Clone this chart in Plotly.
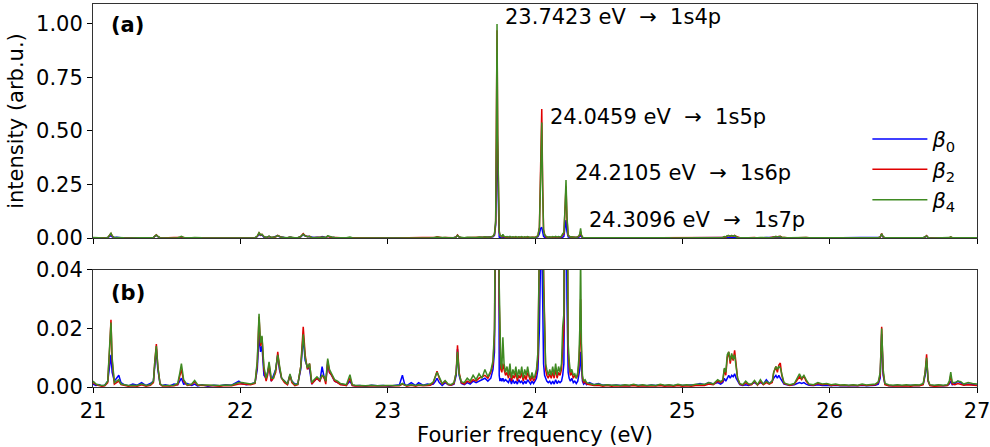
import plotly.graph_objects as go

# ---------------- data ----------------
freq = [
    21.00, 21.02, 21.04, 21.06, 21.08, 21.10, 21.115, 21.122, 21.13, 21.145, 21.16, 21.175, 21.19,
    21.21, 21.24, 21.27, 21.30, 21.33, 21.36, 21.39, 21.41, 21.42, 21.43, 21.44, 21.455, 21.47, 21.49,
    21.52, 21.55, 21.575, 21.59, 21.60, 21.615, 21.64, 21.67, 21.69, 21.71, 21.74, 21.78, 21.82, 21.86, 21.90, 21.94, 21.97, 21.99,
    22.01, 22.04, 22.07, 22.10, 22.115, 22.127, 22.137, 22.147, 22.16, 22.175, 22.185, 22.195, 22.21, 22.225, 22.24, 22.254, 22.265, 22.28, 22.30, 22.32, 22.337, 22.35, 22.37, 22.39,
    22.41, 22.427, 22.44, 22.455, 22.47, 22.485, 22.50, 22.52, 22.54, 22.555, 22.57, 22.58, 22.593, 22.605, 22.62, 22.64, 22.66, 22.68, 22.70, 22.72, 22.744, 22.76, 22.78,
    22.81, 22.85, 22.89, 22.93, 22.97, 23.01, 23.05, 23.08, 23.10, 23.115, 23.13, 23.16, 23.19, 23.21, 23.24, 23.27, 23.29,
    23.31, 23.325, 23.335, 23.35, 23.37, 23.39, 23.41, 23.43, 23.45, 23.465, 23.474, 23.485, 23.50, 23.52, 23.54, 23.56, 23.58, 23.60, 23.62, 23.64, 23.66, 23.68, 23.70, 23.715, 23.725,
    23.733, 23.738, 23.7423, 23.747, 23.752, 23.757, 23.762, 23.768, 23.775, 23.782, 23.79, 23.80,
    23.81, 23.82, 23.83, 23.84, 23.85, 23.86, 23.87, 23.88, 23.89, 23.90, 23.91, 23.92, 23.93, 23.94, 23.95, 23.96, 23.97, 23.98, 23.99, 24.00, 24.01, 24.02, 24.03,
    24.038, 24.0459, 24.052, 24.058, 24.065, 24.072, 24.08, 24.09, 24.10, 24.11,
    24.12, 24.13, 24.14, 24.15, 24.16, 24.17, 24.18, 24.188, 24.196, 24.203,
    24.2105, 24.217, 24.225, 24.232, 24.24, 24.25, 24.26, 24.27, 24.28, 24.29, 24.298,
    24.304, 24.3096, 24.315, 24.322, 24.33, 24.34, 24.35,
    24.37, 24.40, 24.43, 24.46, 24.49, 24.52, 24.55, 24.58, 24.61, 24.64, 24.67, 24.70, 24.73, 24.76, 24.79, 24.82, 24.85, 24.88, 24.91, 24.94, 24.97, 25.00, 25.03, 25.06, 25.09, 25.12, 25.15, 25.18, 25.21, 25.24, 25.26,
    25.275, 25.285, 25.295, 25.305, 25.315, 25.325, 25.335, 25.345, 25.355, 25.365, 25.375, 25.39, 25.41, 25.43, 25.45,
    25.47, 25.49, 25.51, 25.53, 25.55, 25.57, 25.59, 25.61, 25.62, 25.635, 25.645, 25.655, 25.665, 25.675, 25.69, 25.71, 25.73,
    25.76, 25.78, 25.795, 25.81, 25.825, 25.84, 25.86, 25.89, 25.92, 25.95, 25.98, 26.01, 26.04, 26.07, 26.10, 26.13, 26.16, 26.19, 26.22, 26.25, 26.28, 26.31, 26.33,
    26.343, 26.353, 26.363, 26.375, 26.40, 26.43, 26.46, 26.49, 26.52, 26.55, 26.58, 26.61, 26.635, 26.648, 26.658, 26.668, 26.68, 26.71, 26.74, 26.77, 26.80, 26.812, 26.822, 26.832, 26.85, 26.87, 26.89, 26.91, 26.94, 26.97, 27.00,
]

beta0 = [
    0.001, 0.0005, 0.0008, 0.0004, 0.0006, 0.002, 0.008, 0.011, 0.005, 0.002, 0.003, 0.004, 0.0015,
    0.0008, 0.0004, 0.001, 0.0006, 0.0015, 0.0005, 0.0012, 0.002, 0.008, 0.013, 0.006, 0.001, 0.0005, 0.0008,
    0.0004, 0.001, 0.0008, 0.002, 0.003, 0.001, 0.0012, 0.0005, 0.001, 0.0004, 0.0008, 0.0003, 0.0006, 0.0004, 0.0008, 0.0006, 0.0015, 0.002,
    0.0012, 0.0008, 0.001, 0.0015, 0.006, 0.018, 0.012, 0.014, 0.004, 0.003, 0.005, 0.007, 0.002, 0.004, 0.006, 0.011, 0.006, 0.003, 0.002, 0.001, 0.004, 0.002, 0.001, 0.001,
    0.006, 0.017, 0.009, 0.007, 0.006, 0.001, 0.002, 0.003, 0.002, 0.007, 0.003, 0.002, 0.008, 0.005, 0.004, 0.002, 0.0015, 0.001, 0.0008, 0.0006, 0.002, 0.0006, 0.0004,
    0.0005, 0.0003, 0.0006, 0.0004, 0.0005, 0.0003, 0.0006, 0.0008, 0.004, 0.001, 0.0005, 0.0015, 0.0005, 0.0015, 0.0006, 0.001, 0.0008,
    0.001, 0.002, 0.003, 0.0015, 0.0005, 0.0015, 0.0008, 0.0006, 0.001, 0.004, 0.013, 0.004, 0.0012, 0.0008, 0.0015, 0.001, 0.002, 0.0015, 0.002, 0.0025, 0.003, 0.002, 0.003, 0.006, 0.012,
    0.06, 0.30, 0.575, 0.30, 0.006, 0.004, 0.002, 0.003, 0.002, 0.003, 0.002, 0.0025,
    0.002, 0.0015, 0.003, 0.001, 0.0025, 0.0012, 0.002, 0.001, 0.0025, 0.0015, 0.002, 0.001, 0.002, 0.0012, 0.0025, 0.0015, 0.001, 0.002, 0.0012, 0.002, 0.003, 0.006, 0.02,
    0.045, 0.05, 0.03, 0.008, 0.004, 0.003, 0.002, 0.0015, 0.002, 0.001,
    0.002, 0.001, 0.0025, 0.0012, 0.002, 0.0015, 0.002, 0.004, 0.008, 0.05,
    0.084, 0.03, 0.005, 0.003, 0.002, 0.003, 0.0015, 0.002, 0.0012, 0.002, 0.004,
    0.006, 0.012, 0.005, 0.002, 0.001, 0.0015, 0.0008,
    0.0015, 0.0008, 0.0012, 0.0006, 0.0008, 0.0005, 0.0007, 0.0005, 0.0006, 0.0004, 0.0008, 0.0005, 0.0006, 0.0004, 0.0007, 0.0005, 0.0008, 0.0004, 0.0006, 0.0004, 0.0008, 0.0005, 0.0006, 0.0005, 0.0008, 0.0012, 0.0008, 0.0015, 0.001, 0.0015, 0.001,
    0.0015, 0.003, 0.002, 0.003, 0.004, 0.003, 0.004, 0.0035, 0.0045, 0.003, 0.002, 0.0008, 0.0005, 0.0008, 0.0005,
    0.001, 0.0015, 0.0008, 0.0015, 0.001, 0.0025, 0.0012, 0.002, 0.003, 0.004, 0.003, 0.004, 0.003, 0.002, 0.001, 0.0008, 0.0006,
    0.0008, 0.0012, 0.0015, 0.0012, 0.0015, 0.001, 0.0006, 0.0005, 0.0008, 0.0005, 0.0006, 0.0004, 0.0006, 0.0004, 0.0005, 0.0004, 0.0005, 0.0004, 0.0006, 0.0004, 0.0005, 0.0006, 0.001,
    0.003, 0.018, 0.004, 0.001, 0.0005, 0.0004, 0.0006, 0.0004, 0.0005, 0.0004, 0.0006, 0.0005, 0.001, 0.004, 0.009, 0.002, 0.0006, 0.0004, 0.0006, 0.0004, 0.0006, 0.001, 0.002, 0.0008, 0.0012, 0.002, 0.0015, 0.0008, 0.001, 0.0008, 0.0006,
]

beta2 = [
    0.0015, 0.0008, 0.0005, 0.0003, 0.0004, 0.0015, 0.015, 0.023, 0.009, 0.001, 0.0015, 0.002, 0.0008,
    0.0005, 0.0003, 0.0004, 0.0003, 0.0008, 0.0003, 0.0006, 0.0015, 0.009, 0.0147, 0.007, 0.001, 0.0003, 0.0004,
    0.0003, 0.0004, 0.0008, 0.004, 0.006, 0.002, 0.0005, 0.0008, 0.0018, 0.0006, 0.0005, 0.0003, 0.0004, 0.0003, 0.0005, 0.0004, 0.0008, 0.001,
    0.001, 0.0008, 0.0008, 0.0012, 0.008, 0.024, 0.014, 0.017, 0.006, 0.002, 0.004, 0.008, 0.002, 0.003, 0.005, 0.012, 0.007, 0.003, 0.0015, 0.0008, 0.004, 0.0015, 0.0005, 0.0008,
    0.007, 0.0206, 0.011, 0.006, 0.008, 0.001, 0.002, 0.003, 0.002, 0.004, 0.003, 0.001, 0.009, 0.005, 0.004, 0.002, 0.0015, 0.0008, 0.0007, 0.0005, 0.003, 0.0005, 0.0003,
    0.0003, 0.0002, 0.0004, 0.0002, 0.0003, 0.0002, 0.0003, 0.0004, 0.001, 0.0005, 0.0003, 0.0006, 0.0003, 0.0006, 0.0004, 0.0005, 0.0006,
    0.0015, 0.004, 0.0054, 0.003, 0.001, 0.002, 0.0008, 0.0006, 0.0012, 0.005, 0.0143, 0.005, 0.0015, 0.001, 0.002, 0.0015, 0.0025, 0.002, 0.003, 0.0035, 0.004, 0.003, 0.005, 0.008, 0.018,
    0.07, 0.50, 0.97, 0.45, 0.08, 0.029, 0.012, 0.006, 0.005, 0.008, 0.006, 0.004,
    0.005, 0.003, 0.006, 0.002, 0.004, 0.003, 0.005, 0.002, 0.004, 0.003, 0.005, 0.002, 0.004, 0.0025, 0.005, 0.003, 0.002, 0.004, 0.002, 0.003, 0.005, 0.01, 0.05,
    0.30, 0.603, 0.25, 0.04, 0.019, 0.006, 0.004, 0.003, 0.0045, 0.003,
    0.005, 0.003, 0.006, 0.003, 0.005, 0.004, 0.006, 0.015, 0.02, 0.12,
    0.24, 0.09, 0.012, 0.007, 0.004, 0.005, 0.003, 0.004, 0.003, 0.004, 0.008,
    0.015, 0.03, 0.012, 0.003, 0.0015, 0.002, 0.001,
    0.0008, 0.0005, 0.0006, 0.0003, 0.0005, 0.0003, 0.0004, 0.0003, 0.0004, 0.0003, 0.0005, 0.0003, 0.0004, 0.0003, 0.0004, 0.0003, 0.0005, 0.0003, 0.0004, 0.0003, 0.0005, 0.0003, 0.0004, 0.0003, 0.0005, 0.0006, 0.0005, 0.001, 0.0008, 0.002, 0.0015,
    0.002, 0.006, 0.004, 0.010, 0.012, 0.008, 0.011, 0.009, 0.0125, 0.007, 0.003, 0.001, 0.0006, 0.0015, 0.0008,
    0.0008, 0.002, 0.0006, 0.002, 0.0008, 0.0015, 0.001, 0.0015, 0.005, 0.007, 0.005, 0.0075, 0.0082, 0.004, 0.0012, 0.0008, 0.0005,
    0.001, 0.0025, 0.0035, 0.0025, 0.0038, 0.002, 0.0008, 0.0006, 0.0012, 0.0008, 0.001, 0.0005, 0.0008, 0.0005, 0.0006, 0.0004, 0.0006, 0.0004, 0.0008, 0.0005, 0.0006, 0.0008, 0.0015,
    0.004, 0.0206, 0.005, 0.0008, 0.0004, 0.0003, 0.0004, 0.0003, 0.0004, 0.0003, 0.0005, 0.0004, 0.0008, 0.005, 0.0112, 0.002, 0.0005, 0.0003, 0.0004, 0.0003, 0.0005, 0.0015, 0.004, 0.001, 0.0008, 0.0012, 0.001, 0.0006, 0.0008, 0.0006, 0.0005,
]

beta4 = [
    0.002, 0.001, 0.0007, 0.0005, 0.0006, 0.002, 0.016, 0.022, 0.010, 0.0015, 0.002, 0.0025, 0.001,
    0.0007, 0.0005, 0.0006, 0.0005, 0.001, 0.0005, 0.0008, 0.002, 0.009, 0.014, 0.007, 0.0012, 0.0005, 0.0006,
    0.0005, 0.0006, 0.0012, 0.005, 0.008, 0.0025, 0.0007, 0.001, 0.0022, 0.0008, 0.0007, 0.0005, 0.0006, 0.0005, 0.0007, 0.0006, 0.001, 0.0015,
    0.0015, 0.0012, 0.001, 0.0015, 0.009, 0.025, 0.015, 0.0175, 0.007, 0.003, 0.005, 0.0086, 0.003, 0.003, 0.006, 0.011, 0.007, 0.003, 0.002, 0.001, 0.0045, 0.002, 0.0008, 0.001,
    0.007, 0.018, 0.010, 0.0065, 0.008, 0.0015, 0.0025, 0.0035, 0.0025, 0.004, 0.0035, 0.002, 0.0097, 0.006, 0.0045, 0.0025, 0.002, 0.0012, 0.001, 0.0008, 0.0042, 0.0008, 0.0006,
    0.0005, 0.0004, 0.0006, 0.0004, 0.0005, 0.0004, 0.0005, 0.0006, 0.0012, 0.0007, 0.0005, 0.0008, 0.0005, 0.0008, 0.0006, 0.0008, 0.001,
    0.0018, 0.004, 0.005, 0.0035, 0.0012, 0.0022, 0.001, 0.0008, 0.0015, 0.005, 0.012, 0.0045, 0.0018, 0.0015, 0.003, 0.002, 0.004, 0.0025, 0.0045, 0.003, 0.006, 0.0035, 0.0055, 0.009, 0.020,
    0.08, 0.52, 1.0, 0.48, 0.09, 0.035, 0.015, 0.008, 0.006, 0.017, 0.008, 0.005,
    0.007, 0.004, 0.008, 0.003, 0.006, 0.004, 0.007, 0.003, 0.006, 0.004, 0.007, 0.003, 0.006, 0.004, 0.007, 0.004, 0.003, 0.005, 0.003, 0.004, 0.006, 0.012, 0.05,
    0.28, 0.54, 0.22, 0.035, 0.015, 0.008, 0.006, 0.004, 0.006, 0.004,
    0.007, 0.004, 0.008, 0.004, 0.007, 0.005, 0.008, 0.0206, 0.025, 0.13,
    0.271, 0.10, 0.015, 0.009, 0.005, 0.006, 0.004, 0.0045, 0.003, 0.005, 0.01,
    0.02, 0.045, 0.015, 0.004, 0.002, 0.0025, 0.0015,
    0.0012, 0.0008, 0.001, 0.0006, 0.0008, 0.0006, 0.0007, 0.0005, 0.0008, 0.0006, 0.0009, 0.0005, 0.0008, 0.0005, 0.0007, 0.0005, 0.0009, 0.0006, 0.0008, 0.0005, 0.0009, 0.0006, 0.0008, 0.0006, 0.0009, 0.0008, 0.0009, 0.0015, 0.001, 0.0025, 0.0018,
    0.0025, 0.0065, 0.005, 0.011, 0.012, 0.009, 0.0115, 0.0095, 0.011, 0.007, 0.003, 0.0012, 0.0008, 0.002, 0.001,
    0.001, 0.0022, 0.0008, 0.0025, 0.001, 0.002, 0.0012, 0.002, 0.005, 0.007, 0.006, 0.007, 0.0065, 0.004, 0.0015, 0.001, 0.0008,
    0.0012, 0.003, 0.0045, 0.003, 0.004, 0.0025, 0.001, 0.0008, 0.0015, 0.001, 0.0012, 0.0008, 0.001, 0.0007, 0.0008, 0.0006, 0.0008, 0.0006, 0.001, 0.0007, 0.0008, 0.001, 0.0018,
    0.005, 0.020, 0.006, 0.0012, 0.0008, 0.0006, 0.0008, 0.0006, 0.0008, 0.0006, 0.0008, 0.0007, 0.0012, 0.005, 0.010, 0.0025, 0.0008, 0.0006, 0.0008, 0.0006, 0.0008, 0.002, 0.0051, 0.0015, 0.0015, 0.002, 0.0018, 0.001, 0.0015, 0.0012, 0.001,
]

series_names = ["<i>β</i><sub>0</sub>", "<i>β</i><sub>2</sub>", "<i>β</i><sub>4</sub>"]
series_colors = ["#0000ff", "#e00000", "#3f8a22"]

peak_energies = [23.7423, 24.0459, 24.2105, 24.3096]
peak_states = ["1s4p", "1s5p", "1s6p", "1s7p"]
label_x = [23.785, 24.085, 24.255, 24.35]
label_y = [1.033, 0.565, 0.304, 0.084]

x_ticks = [21, 22, 23, 24, 25, 26, 27]

assert len(freq) == len(beta0) == len(beta2) == len(beta4), (len(freq), len(beta0), len(beta2), len(beta4))

# ---------------- figure ----------------
FONT = "DejaVu Sans"
FS = 21
NB = "\u00a0"
fig = go.Figure()
for ys, name, col in zip([beta0, beta2, beta4], series_names, series_colors):
    fig.add_trace(go.Scatter(x=freq, y=ys, mode="lines", name=name,
                             line=dict(color=col, width=1.5), xaxis="x", yaxis="y"))
for ys, name, col in zip([beta0, beta2, beta4], series_names, series_colors):
    fig.add_trace(go.Scatter(x=freq, y=ys, mode="lines", name=name, showlegend=False,
                             line=dict(color=col, width=1.5), xaxis="x2", yaxis="y2"))

axis_common = dict(showline=True, mirror=True, linecolor="#333", linewidth=1,
                   ticks="outside", ticklen=5, tickcolor="#000", showgrid=False,
                   zeroline=False, ticklabeloverflow="allow",
                   tickfont=dict(family=FONT, size=FS, color="#000"))

fig.update_layout(
    width=990, height=447,
    margin=dict(l=93, r=13, t=4, b=60, autoexpand=False),
    plot_bgcolor="white", paper_bgcolor="white",
    font=dict(family=FONT, size=FS, color="#000"),
    xaxis=dict(domain=[0, 1], anchor="y", range=[21, 27], tickvals=x_ticks,
               showticklabels=False, **axis_common),
    yaxis=dict(domain=[0.389, 1], anchor="x", range=[0, 1.093],
               tickvals=[0, 0.25, 0.5, 0.75, 1.0], tickformat=".2f",
               title=dict(text="intensity (arb.u.)", font=dict(family=FONT, size=FS), standoff=6),
               **axis_common),
    xaxis2=dict(domain=[0, 1], anchor="y2", range=[21, 27], tickvals=x_ticks,
                title=dict(text="Fourier frequency (eV)", font=dict(family=FONT, size=FS), standoff=0),
                **axis_common),
    yaxis2=dict(domain=[0, 0.3055], anchor="x2", range=[0, 0.04],
                tickvals=[0, 0.02, 0.04], tickformat=".2f", **axis_common),
    legend=dict(x=0.876, y=0.70, xanchor="left", yanchor="top",
                bgcolor="rgba(255,255,255,0)", font=dict(family=FONT, size=FS),
                tracegroupgap=0, itemwidth=55),
    showlegend=True,
)

for e, s, lx, ly in zip(peak_energies, peak_states, label_x, label_y):
    fig.add_annotation(x=lx, y=ly, xref="x", yref="y",
                       text=f"{e:.4f}{NB}eV{NB}{NB}\u2192{NB}{NB}{s}",
                       showarrow=False, xanchor="left", yanchor="middle",
                       font=dict(family=FONT, size=FS, color="#000"))

fig.add_annotation(x=0.018, y=0.945, xref="paper", yref="paper", text="<b>(a)</b>",
                   showarrow=False, xanchor="left", yanchor="middle",
                   font=dict(family=FONT, size=FS, color="#000"))
fig.add_annotation(x=0.018, y=0.245, xref="paper", yref="paper", text="<b>(b)</b>",
                   showarrow=False, xanchor="left", yanchor="middle",
                   font=dict(family=FONT, size=FS, color="#000"))

fig.write_html("out.html")
